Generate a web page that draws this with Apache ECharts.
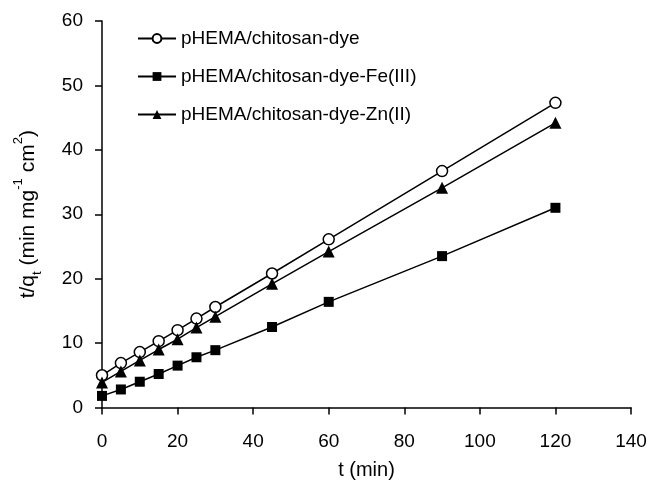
<!DOCTYPE html>
<html>
<head>
<meta charset="utf-8">
<script src="https://cdn.jsdelivr.net/npm/echarts@6/dist/echarts.min.js"></script>
<style>
  html, body { margin: 0; padding: 0; background: #fff; }
  #chart { width: 651px; height: 489px; }
</style>
</head>
<body>
<div id="chart"></div>
<script>
// Contact time (min)
const times = [0, 5, 10, 15, 20, 25, 30, 45, 60, 90, 120];

// t/qt for each adsorbent
const dyeValues = [5.0, 6.9, 8.6, 10.3, 12.0, 13.8, 15.6, 20.8, 26.1, 36.7, 47.3];
const feValues  = [1.8, 2.8, 4.0, 5.2, 6.5, 7.8, 8.9, 12.5, 16.4, 23.5, 31.0];
const znValues  = [3.9, 5.6, 7.3, 9.0, 10.6, 12.4, 14.1, 19.2, 24.2, 34.1, 44.2];

const seriesNames = [
  'pHEMA/chitosan-dye',
  'pHEMA/chitosan-dye-Fe(III)',
  'pHEMA/chitosan-dye-Zn(II)'
];

const xTicks = { min: 0, max: 140, interval: 20 };
const yTicks = { min: 0, max: 60, interval: 10 };

const pairs = vals => times.map((t, i) => [t, vals[i]]);

const FONT = '"Liberation Sans", Arial, Helvetica, sans-serif';
const axisLine = { lineStyle: { color: '#000', width: 1.5 } };
const axisTick = { inside: false, length: 7, lineStyle: { color: '#000', width: 1.5 } };

const chart = echarts.init(document.getElementById('chart'), null, { renderer: 'canvas' });

chart.setOption({
  animation: false,
  backgroundColor: '#fff',
  textStyle: { fontFamily: FONT, color: '#000' },
  grid: { left: 102, right: 20, top: 21, bottom: 81.5, containLabel: false },
  legend: {
    orient: 'vertical',
    left: 137,
    top: 29,
    padding: 0,
    itemWidth: 38,
    itemHeight: 11,
    itemGap: 19,
    textStyle: { fontFamily: FONT, fontSize: 19, color: '#000' },
    data: seriesNames
  },
  xAxis: {
    type: 'value',
    min: xTicks.min, max: xTicks.max, interval: xTicks.interval,
    name: 't (min)',
    nameLocation: 'middle',
    nameGap: 53,
    nameTextStyle: { fontFamily: FONT, fontSize: 20, color: '#000' },
    axisLine: axisLine,
    axisTick: axisTick,
    splitLine: { show: false },
    axisLabel: { fontFamily: FONT, fontSize: 19, color: '#000', margin: 25 }
  },
  yAxis: {
    type: 'value',
    min: yTicks.min, max: yTicks.max, interval: yTicks.interval,
    name: 't/q{sub|t} (min mg{sup|-1} cm{sup|2})',
    nameLocation: 'middle',
    nameRotate: 90,
    nameGap: 58,
    nameTextStyle: {
      fontFamily: FONT, fontSize: 21, color: '#000',
      rich: {
        sub: { fontFamily: FONT, fontSize: 13, color: '#000', verticalAlign: 'bottom', lineHeight: 16 },
        sup: { fontFamily: FONT, fontSize: 13, color: '#000', verticalAlign: 'top', lineHeight: 32 }
      }
    },
    axisLine: axisLine,
    axisTick: axisTick,
    splitLine: { show: false },
    axisLabel: { fontFamily: FONT, fontSize: 19, color: '#000', margin: 19 }
  },
  series: [
    {
      name: seriesNames[0],
      type: 'line',
      data: pairs(dyeValues),
      symbol: 'circle',
      symbolSize: 11,
      showAllSymbol: true,
      lineStyle: { color: '#000', width: 1.5 },
      itemStyle: { color: '#fff', borderColor: '#000', borderWidth: 1.5 },
      z: 3
    },
    {
      name: seriesNames[1],
      type: 'line',
      data: pairs(feValues),
      symbol: 'rect',
      symbolSize: 10,
      showAllSymbol: true,
      lineStyle: { color: '#000', width: 1.5 },
      itemStyle: { color: '#000', borderColor: '#000', borderWidth: 0 },
      z: 3
    },
    {
      name: seriesNames[2],
      type: 'line',
      data: pairs(znValues),
      symbol: 'triangle',
      symbolSize: 12,
      showAllSymbol: true,
      lineStyle: { color: '#000', width: 1.5 },
      itemStyle: { color: '#000', borderColor: '#000', borderWidth: 0 },
      z: 3
    }
  ]
});
</script>
</body>
</html>
